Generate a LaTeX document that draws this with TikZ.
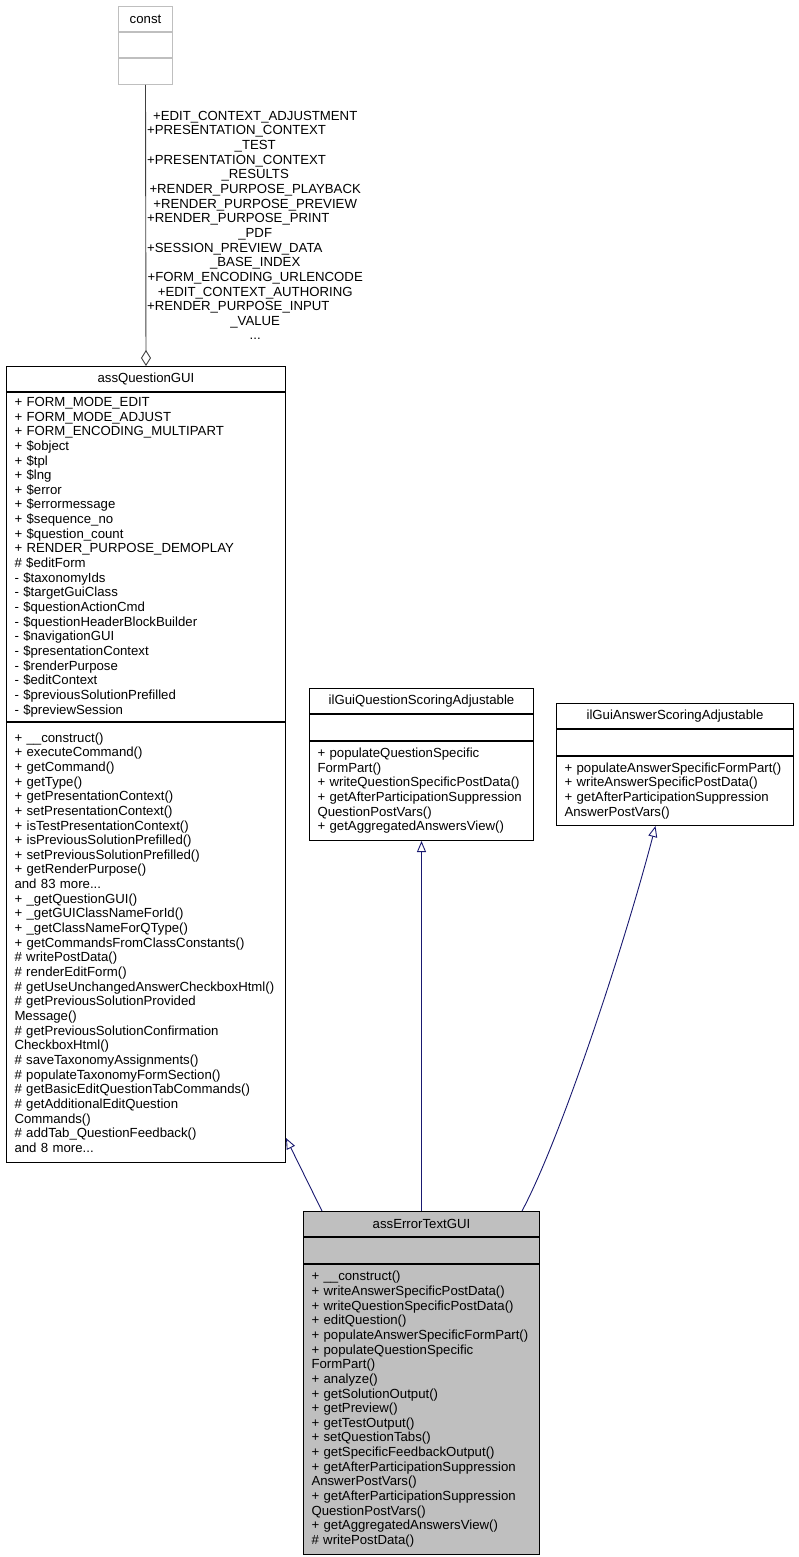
\documentclass[tikz,border=0pt]{standalone}
\usepackage{fontspec}
\setmainfont{Liberation Sans}
\usetikzlibrary{positioning}
\usetikzlibrary{arrows.meta}

\definecolor{edgeblue}{HTML}{191970}
\definecolor{edgegray}{HTML}{404040}
\definecolor{boxgray}{HTML}{BFBFBF}

\newcommand{\flushlabel}[1]{#1\hfill\null}

\begin{document}
\begin{tikzpicture}
 [ x=1pt
 , y=-1pt
 , every node/.style={font=\fontsize{13.2}{14.65}\selectfont}
 , class head/.style={draw, line width=1pt, fill=white, minimum width=#1, minimum height=25pt, inner sep=0pt}
 , class empty/.style={draw, line width=1pt, fill=white, minimum width=#1, minimum height=25.5pt, inner sep=0pt}
 , class body/.style 2 args={draw, line width=1pt, fill=white, text width=#1, minimum height=#2, inner xsep=8pt, inner ysep=0pt, align=left}
 , inherits/.style={edgeblue, line width=0.9pt, -{Triangle[open, length=11pt, width=9pt]}}
 , member of/.style={edgegray, line width=0.9pt, -{Diamond[open, length=16pt, width=10pt]}}
 ]
  \useasboundingbox (0,0) rectangle (798,1557);

  % const
  \node[class head=54pt, draw=boxgray, anchor=north west] (const) at (118,6) {const};
  \node[class empty=54pt, draw=boxgray, below=0pt of const] (const-attr) {};
  \node[class empty=54pt, draw=boxgray, below=0pt of const-attr] (const-ops) {};

  % assQuestionGUI
  \node[class head=279pt, anchor=north west] (qgui) at (6,366) {assQuestionGUI};
  \node[class body={263pt}{329pt}, below=0pt of qgui] (qgui-attr)
  { + FORM\_MODE\_EDIT\\
    + FORM\_MODE\_ADJUST\\
    + FORM\_ENCODING\_MULTIPART\\
    + \$object\\
    + \$tpl\\
    + \$lng\\
    + \$error\\
    + \$errormessage\\
    + \$sequence\_no\\
    + \$question\_count\\
    + RENDER\_PURPOSE\_DEMOPLAY\\
    \# \$editForm\\
    - \$taxonomyIds\\
    - \$targetGuiClass\\
    - \$questionActionCmd\\
    - \$questionHeaderBlockBuilder\\
    - \$navigationGUI\\
    - \$presentationContext\\
    - \$renderPurpose\\
    - \$editContext\\
    - \$previousSolutionPrefilled\\
    - \$previewSession };
  \node[class body={263pt}{440pt}, below=0pt of qgui-attr] (qgui-ops)
  { + \_\_construct()\\
    + executeCommand()\\
    + getCommand()\\
    + getType()\\
    + getPresentationContext()\\
    + setPresentationContext()\\
    + isTestPresentationContext()\\
    + isPreviousSolutionPrefilled()\\
    + setPreviousSolutionPrefilled()\\
    + getRenderPurpose()\\
    and 83 more...\\
    + \_getQuestionGUI()\\
    + \_getGUIClassNameForId()\\
    + \_getClassNameForQType()\\
    + getCommandsFromClassConstants()\\
    \# writePostData()\\
    \# renderEditForm()\\
    \# getUseUnchangedAnswerCheckboxHtml()\\
    \# getPreviousSolutionProvided\\
    Message()\\
    \# getPreviousSolutionConfirmation\\
    CheckboxHtml()\\
    \# saveTaxonomyAssignments()\\
    \# populateTaxonomyFormSection()\\
    \# getBasicEditQuestionTabCommands()\\
    \# getAdditionalEditQuestion\\
    Commands()\\
    \# addTab\_QuestionFeedback()\\
    and 8 more... };

  % ilGuiQuestionScoringAdjustable
  \node[class head=224pt, anchor=north west] (qsa) at (309,688) {ilGuiQuestionScoringAdjustable};
  \node[class empty=224pt, below=0pt of qsa] (qsa-attr) {};
  \node[class body={208pt}{99.5pt}, below=0pt of qsa-attr] (qsa-ops)
  { + populateQuestionSpecific\\
    FormPart()\\
    + writeQuestionSpecificPostData()\\
    + getAfterParticipationSuppression\\
    QuestionPostVars()\\
    + getAggregatedAnswersView() };

  % ilGuiAnswerScoringAdjustable
  \node[class head=237pt, anchor=north west] (asa) at (556,703) {ilGuiAnswerScoringAdjustable};
  \node[class empty=237pt, below=0pt of asa] (asa-attr) {};
  \node[class body={221pt}{69.5pt}, below=0pt of asa-attr] (asa-ops)
  { + populateAnswerSpecificFormPart()\\
    + writeAnswerSpecificPostData()\\
    + getAfterParticipationSuppression\\
    AnswerPostVars() };

  % assErrorTextGUI
  \node[class head=236pt, fill=boxgray, anchor=north west] (etg) at (303,1211) {assErrorTextGUI};
  \node[class empty=236pt, fill=boxgray, below=0pt of etg] (etg-attr) {};
  \node[class body={220pt}{290.5pt}, fill=boxgray, below=0pt of etg-attr] (etg-ops)
  { + \_\_construct()\\
    + writeAnswerSpecificPostData()\\
    + writeQuestionSpecificPostData()\\
    + editQuestion()\\
    + populateAnswerSpecificFormPart()\\
    + populateQuestionSpecific\\
    FormPart()\\
    + analyze()\\
    + getSolutionOutput()\\
    + getPreview()\\
    + getTestOutput()\\
    + setQuestionTabs()\\
    + getSpecificFeedbackOutput()\\
    + getAfterParticipationSuppression\\
    AnswerPostVars()\\
    + getAfterParticipationSuppression\\
    QuestionPostVars()\\
    + getAggregatedAnswersView()\\
    \# writePostData() };

  % edges
  \draw[member of] (const-ops.south) -- (qgui.north)
    node[midway, right, text width=216pt, align=center, inner sep=1pt, text=black]
    { +EDIT\_CONTEXT\_ADJUSTMENT\\
      \flushlabel{+PRESENTATION\_CONTEXT}\\
      \_TEST\\
      \flushlabel{+PRESENTATION\_CONTEXT}\\
      \_RESULTS\\
      +RENDER\_PURPOSE\_PLAYBACK\\
      +RENDER\_PURPOSE\_PREVIEW\\
      \flushlabel{+RENDER\_PURPOSE\_PRINT}\\
      \_PDF\\
      \flushlabel{+SESSION\_PREVIEW\_DATA}\\
      \_BASE\_INDEX\\
      +FORM\_ENCODING\_URLENCODE\\
      +EDIT\_CONTEXT\_AUTHORING\\
      \flushlabel{+RENDER\_PURPOSE\_INPUT}\\
      \_VALUE\\
      ... };
  \draw[inherits] ([xshift=19pt]etg.north west) -- ([yshift=25pt]qgui-ops.south east);
  \draw[inherits] (etg.north) -- (qsa-ops.south);
  \draw[inherits] ([xshift=-18pt]etg.north east)
    .. controls +(40,-75) and +(-30,115) .. ([xshift=-19.5pt]asa-ops.south);
\end{tikzpicture}
\end{document}
